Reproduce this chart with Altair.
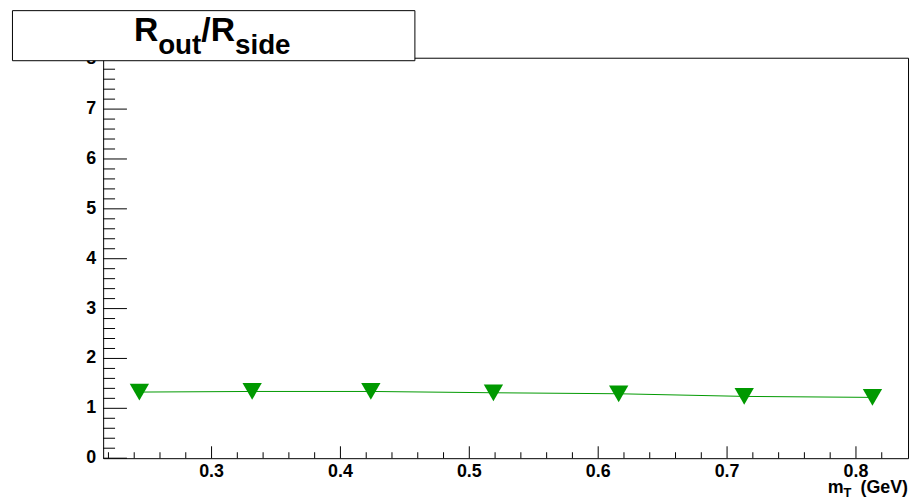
import altair as alt
import pandas as pd

# ---- data ----
mt_values = [0.244, 0.3315, 0.4236, 0.5187, 0.6159, 0.7133, 0.8128]
ratio_values = [1.326, 1.338, 1.338, 1.312, 1.292, 1.239, 1.219]

x_major = [0.3, 0.4, 0.5, 0.6, 0.7, 0.8]
x_labels = ["0.3", "0.4", "0.5", "0.6", "0.7", "0.8"]
x_minor = [0.22, 0.24, 0.26, 0.28, 0.32, 0.34, 0.36, 0.38, 0.42, 0.44, 0.46, 0.48,
           0.52, 0.54, 0.56, 0.58, 0.62, 0.64, 0.66, 0.68, 0.72, 0.74, 0.76, 0.78,
           0.82]
y_major = [0, 1, 2, 3, 4, 5, 6, 7, 8]
y_labels = ["0", "1", "2", "3", "4", "5", "6", "7", "8"]
y_minor = [round(m + f, 1) for m in range(0, 8) for f in (0.2, 0.4, 0.6, 0.8)]

x_domain = [0.2159, 0.8404]
y_domain = [0, 8.03]

FONT = "Liberation Sans"
GREEN = "#009900"
W, H = 812, 404
LABEL_SIZE = 18

df = pd.DataFrame({"mt": mt_values, "ratio": ratio_values})
xs = alt.Scale(domain=x_domain, nice=False, zero=False)
ys = alt.Scale(domain=y_domain, nice=False, zero=False)

base = alt.Chart(df)
enc = dict(x=alt.X("mt:Q", scale=xs, axis=None),
           y=alt.Y("ratio:Q", scale=ys, axis=None))

line = base.mark_line(color=GREEN, strokeWidth=1).encode(**enc)
points = base.mark_point(shape="triangle-down", filled=True, size=380,
                         color=GREEN, opacity=1).encode(**enc)

def xticks(vals, length):
    return alt.Chart(pd.DataFrame({"v": vals})).mark_rule(
        color="black", strokeWidth=1).encode(
        x=alt.X("v:Q", scale=xs, axis=None),
        y=alt.value(H), y2=alt.value(H - length))

def yticks(vals, length):
    return alt.Chart(pd.DataFrame({"v": vals})).mark_rule(
        color="black", strokeWidth=1).encode(
        y=alt.Y("v:Q", scale=ys, axis=None),
        x=alt.value(0), x2=alt.value(length))

x_tick_labels = alt.Chart(pd.DataFrame({"v": x_major, "t": x_labels})).mark_text(
    font=FONT, fontSize=LABEL_SIZE, fontWeight="bold", color="black",
    align="center", baseline="top").encode(
    x=alt.X("v:Q", scale=xs, axis=None), y=alt.value(H + 5), text="t:N")

y_tick_labels = alt.Chart(pd.DataFrame({"v": y_major, "t": y_labels})).mark_text(
    font=FONT, fontSize=LABEL_SIZE, fontWeight="bold", color="black",
    align="right", baseline="middle").encode(
    y=alt.Y("v:Q", scale=ys, axis=None), x=alt.value(-7), text="t:N")

one = alt.Chart(pd.DataFrame({"a": [0]}))

title_box = one.mark_rect(fill="white", stroke="black", strokeWidth=1).encode(
    x=alt.value(-91.5), x2=alt.value(314.5), y=alt.value(-47.5), y2=alt.value(3))

def txt(s, x, y, size, align="left"):
    return one.mark_text(text=s, font=FONT, fontSize=size, fontWeight="bold",
                         color="black", align=align, baseline="alphabetic").encode(
        x=alt.value(x), y=alt.value(y))

title_parts = [
    txt("R", 31, -16.5, 34),
    txt("out", 55.5, -4, 28),
    txt("/", 99, -16.5, 34),
    txt("R", 108.5, -16.5, 34),
    txt("side", 133, -4, 28),
]

xtitle_parts = [
    txt("m", 731, 439, 18),
    txt("T", 747, 443, 13),
    txt("(GeV)", 812, 439, 18, align="right"),
]

chart = alt.layer(
    xticks(x_minor, 6), xticks(x_major, 12),
    yticks(y_minor, 12), yticks(y_major, 24),
    x_tick_labels, y_tick_labels,
    line, points,
    title_box, *title_parts, *xtitle_parts,
).properties(
    width=W, height=H,
    padding={"left": 96, "top": 48, "right": 3, "bottom": 40},
    autosize=alt.AutoSizeParams(type="none"),
    background="white",
).configure_view(stroke="black", strokeWidth=1)

chart.save("out.html", embed_options={"renderer": "svg", "actions": False})
